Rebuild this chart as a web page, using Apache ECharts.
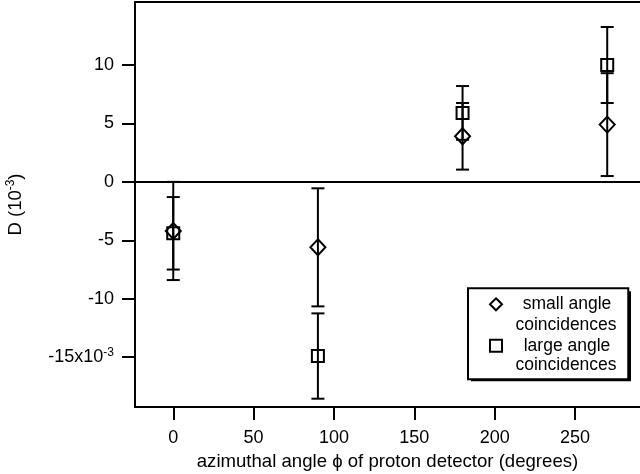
<!DOCTYPE html>
<html>
<head>
<meta charset="utf-8">
<script src="https://cdn.jsdelivr.net/npm/echarts@6/dist/echarts.min.js"></script>
<style>
  html, body { margin: 0; padding: 0; background: #fff; }
  #chart { width: 640px; height: 474px; }
</style>
</head>
<body>
<div id="chart"></div>
<script>
const angles = [0, 90, 180, 270];
const smallAngle = [-4.2, -5.6, 3.9, 4.9];
const smallAngleErr = [4.2, 5.05, 2.85, 4.4];
const largeAngle = [-4.4, -14.9, 5.9, 10.0];
const largeAngleErr = [3.1, 3.65, 2.3, 3.25];
const xTicks = [0, 50, 100, 150, 200, 250];
const yTicks = [-15, -10, -5, 0, 5, 10];

const FONT = 'Liberation Sans';
const chart = echarts.init(document.getElementById('chart'));

function errorData(vals, errs) {
    return angles.map((a, i) => [a, vals[i] - errs[i], vals[i] + errs[i]]);
}

function renderErrorBar(params, api) {
    const lo = api.coord([api.value(0), api.value(1)]);
    const hi = api.coord([api.value(0), api.value(2)]);
    const w = 6.5;
    const style = { stroke: '#000', lineWidth: 2 };
    return {
        type: 'group',
        children: [
            { type: 'line', shape: { x1: lo[0], y1: lo[1], x2: hi[0], y2: hi[1] }, style },
            { type: 'line', shape: { x1: lo[0] - w, y1: lo[1], x2: lo[0] + w, y2: lo[1] }, style },
            { type: 'line', shape: { x1: hi[0] - w, y1: hi[1], x2: hi[0] + w, y2: hi[1] }, style }
        ]
    };
}

// second line of each legend entry
function legendSubText(y) {
    return {
        type: 'text',
        x: 566, y: y, z: 100,
        style: {
            text: 'coincidences', x: 0, y: 0,
            fontSize: 17.5, fontFamily: FONT, fill: '#000',
            align: 'center', verticalAlign: 'middle'
        }
    };
}

chart.setOption({
    backgroundColor: '#fff',
    animation: false,
    textStyle: { fontFamily: FONT },
    grid: { left: 135, right: 0, top: 2, bottom: 67, outerBoundsMode: 'none', containLabel: false },
    legend: {
        orient: 'vertical',
        left: 468,
        top: 288.3,
        padding: [7, 17, 24.5, 21],
        itemGap: 23.5,
        itemWidth: 12,
        itemHeight: 12,
        backgroundColor: '#fff',
        borderColor: '#000',
        borderWidth: 2,
        borderRadius: 0,
        data: [
            { name: 'small angle', icon: 'diamond' },
            { name: 'large angle', icon: 'rect' }
        ],
        itemStyle: { color: 'transparent', borderColor: '#000', borderWidth: 2 },
        textStyle: {
            rich: { a: { width: 120, align: 'center', fontSize: 17.5, fontFamily: FONT, color: '#000' } }
        },
        formatter: (name) => '{a|' + name + '}'
    },
    graphic: [
        // drop shadow behind the legend box
        { type: 'rect', x: 471, y: 291.3, z: 1, shape: { width: 160, height: 90 }, style: { fill: '#000' } },
        legendSubText(325),
        legendSubText(365)
    ],
    xAxis: [{
        type: 'value',
        min: -23.8,
        max: 290.4,
        name: 'azimuthal angle ϕ of proton detector (degrees)',
        nameLocation: 'middle',
        nameGap: 43,
        nameTextStyle: { fontSize: 18.6, color: '#000', fontFamily: FONT },
        axisLine: { show: true, onZero: false, lineStyle: { color: '#000', width: 2 } },
        axisTick: { show: true, inside: false, length: 13, customValues: xTicks, lineStyle: { color: '#000', width: 2 } },
        axisLabel: { customValues: xTicks, fontSize: 18, color: '#000', margin: 22, fontFamily: FONT },
        splitLine: { show: false }
    }, {
        type: 'value',
        position: 'top',
        min: -23.8,
        max: 290.4,
        axisLine: { show: true, onZero: false, lineStyle: { color: '#000', width: 2 } },
        axisTick: { show: false },
        axisLabel: { show: false },
        splitLine: { show: false }
    }],
    yAxis: {
        type: 'value',
        min: -19.26,
        max: 15.39,
        name: 'D (10{sup|-3})',
        nameLocation: 'middle',
        nameRotate: 90,
        nameGap: 109,
        nameTextStyle: {
            fontSize: 18.5, color: '#000', fontFamily: FONT,
            rich: { sup: { fontSize: 12, padding: [0, 0, 9, 0], fontFamily: FONT, color: '#000' } }
        },
        axisLine: { show: true, onZero: false, lineStyle: { color: '#000', width: 2 } },
        axisTick: { show: true, inside: false, length: 13, customValues: yTicks, lineStyle: { color: '#000', width: 2 } },
        axisLabel: {
            customValues: yTicks,
            fontSize: 18,
            color: '#000',
            margin: 21,
            fontFamily: FONT,
            formatter: (v) => (v === -15 ? '-15x10{sup|-3}' : String(v)),
            rich: { sup: { fontSize: 12, padding: [0, 0, 9, 0], fontFamily: FONT, color: '#000' } }
        },
        splitLine: { show: false }
    },
    series: [
        {
            name: 'small angle error',
            type: 'custom',
            renderItem: renderErrorBar,
            data: errorData(smallAngle, smallAngleErr),
            encode: { x: 0, y: [1, 2] },
            z: 2
        },
        {
            name: 'large angle error',
            type: 'custom',
            renderItem: renderErrorBar,
            data: errorData(largeAngle, largeAngleErr),
            encode: { x: 0, y: [1, 2] },
            z: 2
        },
        {
            name: 'small angle',
            type: 'scatter',
            symbol: 'diamond',
            symbolSize: [15, 16],
            itemStyle: { color: 'transparent', borderColor: '#000', borderWidth: 2, opacity: 1 },
            data: angles.map((a, i) => [a, smallAngle[i]]),
            z: 3,
            markLine: {
                silent: true,
                symbol: 'none',
                label: { show: false },
                lineStyle: { color: '#000', width: 2, type: 'solid' },
                data: [{ yAxis: 0 }]
            }
        },
        {
            name: 'large angle',
            type: 'scatter',
            symbol: 'rect',
            symbolSize: 12,
            itemStyle: { color: 'transparent', borderColor: '#000', borderWidth: 2, opacity: 1 },
            data: angles.map((a, i) => [a, largeAngle[i]]),
            z: 3
        }
    ]
});
</script>
</body>
</html>
